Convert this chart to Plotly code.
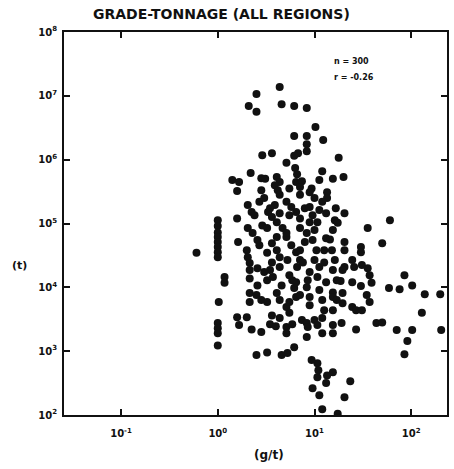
import plotly.graph_objects as go
import numpy as np

# Values, stored as log10(grade g/t) and log10(tonnage t)
log_grade = [
    0.64, 0.40, 0.32, 0.40, 0.66, 0.79, 0.92, 1.01, 1.09, 0.79, 0.92, 0.92, 0.92, 0.83, 0.79, 0.46, 0.56, 0.71, 0.80, 0.34,
    0.82, 0.15, 0.22, 0.45, 0.49, 0.61, 0.64, 0.59, 0.81, 0.87, 0.20, 0.62, 0.74, 1.25, 1.08, 1.19, 1.30, 1.13, 1.13, 0.97,
    0.85, 1.22, 1.21, 1.24, 1.19, 1.55, 1.78, 1.70, 1.48, 1.48, 1.31, 1.31, 1.12, 1.16, 1.39, 1.41, 1.31, 1.29, 1.49, 1.55,
    1.57, 1.93, 2.01, 1.77, 1.88, 2.14, 2.30, 1.27, 1.39, 1.48, 1.59, 1.29, 1.54, 1.57, 1.39, 1.29, 1.19, 1.19, 1.43, 1.64,
    1.70, 1.85, 2.01, 1.96, 1.93, 2.31, 2.11, 1.43, 1.49,
    1.08, 1.19, 1.28, 1.08, 1.19, 1.03, 1.04, 1.03, 1.19, 1.13, 1.12, 1.37, 1.31, 1.05, 1.08, 1.24, 0.97, 0.98,
    0.00, 0.00, 0.00, 0.00, 0.00, 0.00, 0.00, 0.00, -0.22, 0.07, 0.07, 0.01, 0.00, 0.00, 0.00, 0.00,
    0.20, 0.30, 0.22, 0.35, 0.45, 0.54, 0.60, 0.64, 0.71, 0.71, 0.77, 0.87, 0.92, 0.93, 0.92, 0.40, 0.51, 0.66, 0.72, 0.79,
    0.56, 1.00, 1.03,
    0.21, 0.30, 0.31, 0.33, 0.33, 0.33, 0.56, 0.61, 0.64, 0.54, 0.57, 0.51, 0.71, 0.76, 0.85, 0.85, 0.82, 0.98, 1.02, 1.00,
    1.05, 1.03, 1.18, 1.21, 1.19, 1.23, 0.77, 0.79, 0.81, 0.92, 0.95, 0.95, 1.05, 1.08, 1.10, 1.23, 1.19, 0.33, 0.40, 0.45,
    0.51, 0.61, 0.64, 0.71, 0.74,
    0.31, 0.43, 0.54, 0.31, 0.46, 0.61, 0.74, 0.85, 0.95, 0.43, 0.51, 0.56, 0.48, 0.64, 0.81, 0.88, 0.95, 0.74, 0.81, 0.74,
    0.85, 0.33, 0.20,
    0.35, 0.48, 0.52, 0.56, 0.59, 0.64, 0.71, 0.76, 0.81, 0.90, 0.95, 0.98, 1.03, 1.12, 0.64, 0.85, 0.95, 1.00, 1.08, 0.51,
    0.67, 0.85, 0.71, 0.61, 0.92, 0.36, 1.00,
    0.38, 1.05, 0.41, 0.90, 1.10, 0.72, 0.93, 1.12, 0.41, 0.66, 0.41, 1.10, 0.45, 1.05, 1.31,
]
log_tonnage = [
    7.14, 7.03, 6.84, 6.75, 6.87, 6.84, 6.81, 6.51, 6.31, 6.37, 6.37, 6.24, 6.13, 6.10, 6.06, 6.07, 6.10, 5.95, 5.87, 5.79,
    5.77, 5.68, 5.65, 5.71, 5.70, 5.73, 5.65, 5.60, 5.65, 5.66, 5.51, 5.52, 5.55, 6.03, 5.82, 5.70, 5.73, 5.49, 5.40, 5.55,
    5.45, 5.24, 5.05, 5.01, 4.90, 4.93, 5.05, 4.69, 4.63, 4.55, 4.71, 4.58, 4.77, 4.75, 4.43, 4.32, 4.32, 4.27, 4.35, 4.30,
    4.19, 4.19, 4.03, 3.99, 3.97, 3.89, 3.89, 4.10, 4.08, 4.02, 4.07, 3.91, 3.88, 3.77, 3.69, 3.75, 3.92, 3.85, 3.34, 3.44,
    3.45, 3.33, 3.33, 3.16, 2.95, 3.33, 3.60, 3.64, 3.64,
    3.52, 3.41, 3.44, 3.28, 3.28, 2.81, 2.70, 2.59, 2.67, 2.62, 2.50, 2.53, 2.28, 2.31, 2.09, 2.02, 2.86, 2.42,
    5.05, 4.96, 4.86, 4.79, 4.71, 4.63, 4.55, 4.47, 4.54, 4.16, 4.07, 3.77, 3.44, 3.36, 3.28, 3.09,
    3.53, 3.53, 3.41, 3.34, 3.30, 3.42, 3.39, 3.52, 3.38, 3.28, 3.42, 3.49, 3.44, 3.38, 3.22, 2.94, 2.98, 2.94, 2.97, 3.06,
    3.56, 3.49, 3.41,
    4.71, 4.58, 4.47, 4.38, 4.27, 4.14, 4.69, 4.58, 4.47, 4.27, 4.16, 4.11, 4.79, 4.66, 4.58, 4.43, 4.32, 4.74, 4.58, 4.43,
    4.32, 4.16, 4.58, 4.43, 4.27, 4.11, 4.11, 3.99, 3.85, 4.00, 3.85, 3.72, 3.96, 3.80, 3.64, 3.80, 3.64, 3.91, 3.88, 3.80,
    3.77, 3.91, 3.80, 3.69, 3.60,
    5.29, 5.34, 5.24, 4.93, 4.97, 5.02, 5.13, 5.08, 5.02, 4.66, 4.54, 4.39, 4.24, 4.32, 4.55, 4.39, 4.24, 4.19, 4.08, 3.77,
    3.88, 3.77, 5.08,
    5.18, 5.40, 5.18, 5.10, 5.29, 5.16, 5.34, 5.26, 5.18, 5.24, 5.26, 5.13, 5.02, 5.16, 5.45, 5.57, 5.49, 5.40, 5.34, 4.93,
    4.93, 4.93, 4.85, 4.79, 4.85, 4.85, 4.90,
    5.13, 5.21, 4.74, 4.71, 4.58, 4.43, 4.11, 4.08, 4.03, 4.03, 4.30, 4.39, 5.52, 5.68, 5.16,
]

x_tick_exp = [-1, 0, 1, 2]
y_tick_exp = [2, 3, 4, 5, 6, 7, 8]
legend_lines = ["n = 300", "r = -0.26"]
title_text = "GRADE-TONNAGE (ALL REGIONS)"

grade = 10 ** np.array(log_grade)
tonnage = 10 ** np.array(log_tonnage)

fig = go.Figure()
fig.add_trace(go.Scatter(
    x=grade, y=tonnage, mode="markers",
    marker=dict(size=8, color="#111111", line=dict(width=0)),
    showlegend=False,
))

def sup_label(e):
    return "<b>10<sup>%d</sup></b>" % e

axis_common = dict(
    type="log", showgrid=False, zeroline=False,
    showline=True, linecolor="#111111", linewidth=2, mirror="ticks",
    ticks="inside", ticklen=6, tickwidth=1.5, tickcolor="#111111",
    tickfont=dict(family="DejaVu Sans", size=10, color="#111111"),
)

fig.update_xaxes(
    range=[-1.59, 2.37],
    tickvals=[10 ** e for e in x_tick_exp],
    ticktext=[sup_label(e) for e in x_tick_exp],
    ticklabelstandoff=8,
    **axis_common,
)
fig.update_yaxes(
    range=[2, 8],
    tickvals=[10 ** e for e in y_tick_exp],
    ticktext=[sup_label(e) for e in y_tick_exp],
    ticklabelstandoff=3,
    **axis_common,
)

annots = [
    dict(text="<b>" + title_text + "</b>", x=0.41, y=1.047, xanchor="center", yanchor="middle",
         font=dict(family="DejaVu Sans", size=14, color="#111111")),
    dict(text="<b>" + legend_lines[0] + "</b>", x=0.70, y=0.922, xanchor="left", yanchor="middle",
         font=dict(family="DejaVu Sans", size=8, color="#111111")),
    dict(text="<b>" + legend_lines[1] + "</b>", x=0.70, y=0.88, xanchor="left", yanchor="middle",
         font=dict(family="DejaVu Sans", size=8, color="#111111")),
    dict(text="<b>(t)</b>", x=-0.115, y=0.39, xanchor="center", yanchor="middle",
         font=dict(family="DejaVu Sans", size=11, color="#111111")),
    dict(text="<b>(g/t)</b>", x=0.535, y=-0.105, xanchor="center", yanchor="middle",
         font=dict(family="DejaVu Sans", size=12, color="#111111")),
]
for a in annots:
    a.update(xref="paper", yref="paper", showarrow=False)
fig.update_layout(
    annotations=annots,
    width=454, height=469,
    margin=dict(l=64, r=5, t=32, b=54),
    paper_bgcolor="white", plot_bgcolor="white",
)

fig.write_html("out.html")
